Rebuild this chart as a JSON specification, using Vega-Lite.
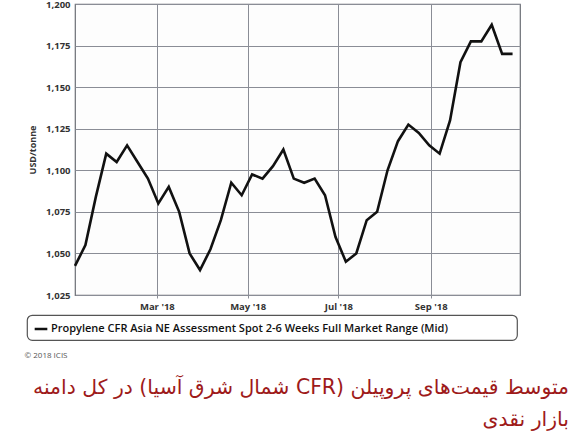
{
  "$schema": "https://vega.github.io/schema/vega-lite/v6.json",
  "width": 445,
  "height": 291,
  "autosize": {"type": "none"},
  "padding": {"left": 75, "top": 4, "right": 56, "bottom": 138},
  "background": "#ffffff",
  "config": {
    "view": {"stroke": "#6b6e75", "strokeWidth": 1.2, "fill": "#fdfdfd"},
    "font": "Open Sans",
    "legend": {"strokeWidth": 1.2}
  },
  "title": {
    "text": ["\u202bمتوسط قیمت‌های پروپیلن (CFR شمال شرق آسیا) در کل دامنه\u202c", "\u202bبازار نقدی\u202c"],
    "orient": "bottom",
    "anchor": "end",
    "align": "right",
    "frame": "group",
    "dx": 49,
    "offset": 19,
    "font": "DejaVu Sans",
    "fontSize": 20.4,
    "fontWeight": "normal",
    "color": "#9e1a1a",
    "lineHeight": 32
  },
  "data": {
    "values": [
      {"date": "2018-01-05", "price": 1042.5, "series": "Propylene CFR Asia NE Assessment Spot 2-6 Weeks Full Market Range (Mid)"},
      {"date": "2018-01-12", "price": 1055, "series": "Propylene CFR Asia NE Assessment Spot 2-6 Weeks Full Market Range (Mid)"},
      {"date": "2018-01-19", "price": 1084, "series": "Propylene CFR Asia NE Assessment Spot 2-6 Weeks Full Market Range (Mid)"},
      {"date": "2018-01-26", "price": 1110, "series": "Propylene CFR Asia NE Assessment Spot 2-6 Weeks Full Market Range (Mid)"},
      {"date": "2018-02-02", "price": 1105, "series": "Propylene CFR Asia NE Assessment Spot 2-6 Weeks Full Market Range (Mid)"},
      {"date": "2018-02-09", "price": 1115, "series": "Propylene CFR Asia NE Assessment Spot 2-6 Weeks Full Market Range (Mid)"},
      {"date": "2018-02-16", "price": 1105, "series": "Propylene CFR Asia NE Assessment Spot 2-6 Weeks Full Market Range (Mid)"},
      {"date": "2018-02-23", "price": 1095, "series": "Propylene CFR Asia NE Assessment Spot 2-6 Weeks Full Market Range (Mid)"},
      {"date": "2018-03-02", "price": 1080, "series": "Propylene CFR Asia NE Assessment Spot 2-6 Weeks Full Market Range (Mid)"},
      {"date": "2018-03-09", "price": 1090, "series": "Propylene CFR Asia NE Assessment Spot 2-6 Weeks Full Market Range (Mid)"},
      {"date": "2018-03-16", "price": 1075, "series": "Propylene CFR Asia NE Assessment Spot 2-6 Weeks Full Market Range (Mid)"},
      {"date": "2018-03-23", "price": 1050, "series": "Propylene CFR Asia NE Assessment Spot 2-6 Weeks Full Market Range (Mid)"},
      {"date": "2018-03-30", "price": 1040, "series": "Propylene CFR Asia NE Assessment Spot 2-6 Weeks Full Market Range (Mid)"},
      {"date": "2018-04-06", "price": 1052.5, "series": "Propylene CFR Asia NE Assessment Spot 2-6 Weeks Full Market Range (Mid)"},
      {"date": "2018-04-13", "price": 1070, "series": "Propylene CFR Asia NE Assessment Spot 2-6 Weeks Full Market Range (Mid)"},
      {"date": "2018-04-20", "price": 1092.5, "series": "Propylene CFR Asia NE Assessment Spot 2-6 Weeks Full Market Range (Mid)"},
      {"date": "2018-04-27", "price": 1085, "series": "Propylene CFR Asia NE Assessment Spot 2-6 Weeks Full Market Range (Mid)"},
      {"date": "2018-05-04", "price": 1097.5, "series": "Propylene CFR Asia NE Assessment Spot 2-6 Weeks Full Market Range (Mid)"},
      {"date": "2018-05-11", "price": 1095, "series": "Propylene CFR Asia NE Assessment Spot 2-6 Weeks Full Market Range (Mid)"},
      {"date": "2018-05-18", "price": 1102.5, "series": "Propylene CFR Asia NE Assessment Spot 2-6 Weeks Full Market Range (Mid)"},
      {"date": "2018-05-25", "price": 1112.5, "series": "Propylene CFR Asia NE Assessment Spot 2-6 Weeks Full Market Range (Mid)"},
      {"date": "2018-06-01", "price": 1095, "series": "Propylene CFR Asia NE Assessment Spot 2-6 Weeks Full Market Range (Mid)"},
      {"date": "2018-06-08", "price": 1092.5, "series": "Propylene CFR Asia NE Assessment Spot 2-6 Weeks Full Market Range (Mid)"},
      {"date": "2018-06-15", "price": 1095, "series": "Propylene CFR Asia NE Assessment Spot 2-6 Weeks Full Market Range (Mid)"},
      {"date": "2018-06-22", "price": 1085, "series": "Propylene CFR Asia NE Assessment Spot 2-6 Weeks Full Market Range (Mid)"},
      {"date": "2018-06-29", "price": 1060, "series": "Propylene CFR Asia NE Assessment Spot 2-6 Weeks Full Market Range (Mid)"},
      {"date": "2018-07-06", "price": 1045, "series": "Propylene CFR Asia NE Assessment Spot 2-6 Weeks Full Market Range (Mid)"},
      {"date": "2018-07-13", "price": 1050, "series": "Propylene CFR Asia NE Assessment Spot 2-6 Weeks Full Market Range (Mid)"},
      {"date": "2018-07-20", "price": 1070, "series": "Propylene CFR Asia NE Assessment Spot 2-6 Weeks Full Market Range (Mid)"},
      {"date": "2018-07-27", "price": 1075, "series": "Propylene CFR Asia NE Assessment Spot 2-6 Weeks Full Market Range (Mid)"},
      {"date": "2018-08-03", "price": 1100, "series": "Propylene CFR Asia NE Assessment Spot 2-6 Weeks Full Market Range (Mid)"},
      {"date": "2018-08-10", "price": 1117.5, "series": "Propylene CFR Asia NE Assessment Spot 2-6 Weeks Full Market Range (Mid)"},
      {"date": "2018-08-17", "price": 1127.5, "series": "Propylene CFR Asia NE Assessment Spot 2-6 Weeks Full Market Range (Mid)"},
      {"date": "2018-08-24", "price": 1122.5, "series": "Propylene CFR Asia NE Assessment Spot 2-6 Weeks Full Market Range (Mid)"},
      {"date": "2018-08-31", "price": 1115, "series": "Propylene CFR Asia NE Assessment Spot 2-6 Weeks Full Market Range (Mid)"},
      {"date": "2018-09-07", "price": 1110, "series": "Propylene CFR Asia NE Assessment Spot 2-6 Weeks Full Market Range (Mid)"},
      {"date": "2018-09-14", "price": 1130, "series": "Propylene CFR Asia NE Assessment Spot 2-6 Weeks Full Market Range (Mid)"},
      {"date": "2018-09-21", "price": 1165, "series": "Propylene CFR Asia NE Assessment Spot 2-6 Weeks Full Market Range (Mid)"},
      {"date": "2018-09-28", "price": 1177.5, "series": "Propylene CFR Asia NE Assessment Spot 2-6 Weeks Full Market Range (Mid)"},
      {"date": "2018-10-05", "price": 1177.5, "series": "Propylene CFR Asia NE Assessment Spot 2-6 Weeks Full Market Range (Mid)"},
      {"date": "2018-10-12", "price": 1187.5, "series": "Propylene CFR Asia NE Assessment Spot 2-6 Weeks Full Market Range (Mid)"},
      {"date": "2018-10-19", "price": 1170, "series": "Propylene CFR Asia NE Assessment Spot 2-6 Weeks Full Market Range (Mid)"},
      {"date": "2018-10-26", "price": 1170, "series": "Propylene CFR Asia NE Assessment Spot 2-6 Weeks Full Market Range (Mid)"}
    ]
  },
  "mark": {"type": "line", "strokeWidth": 2.6, "strokeJoin": "miter", "strokeCap": "butt"},
  "encoding": {
    "x": {
      "field": "date",
      "type": "temporal",
      "scale": {"type": "utc", "domain": [{"year": 2018, "month": 1, "date": 5, "utc": true}, {"year": 2018, "month": 10, "date": 31, "utc": true}], "nice": false},
      "axis": {
        "values": [
          {"year": 2018, "month": 3, "date": 1, "utc": true},
          {"year": 2018, "month": 5, "date": 1, "utc": true},
          {"year": 2018, "month": 7, "date": 1, "utc": true},
          {"year": 2018, "month": 9, "date": 1, "utc": true}
        ],
        "labelExpr": "utcFormat(datum.value, \"%b '%y\")",
        "domain": false,
        "grid": true,
        "gridColor": "#8a8d96",
        "gridWidth": 1,
        "gridOpacity": 1,
        "ticks": true,
        "tickSize": 3,
        "tickColor": "#8a8d96",
        "labelFont": "Open Sans",
        "labelFontSize": 9.5,
        "labelFontWeight": "bold",
        "labelColor": "#333333",
        "labelPadding": 3,
        "title": "© 2018 ICIS",
        "titleAnchor": "start",
        "titleAlign": "left",
        "titleBaseline": "middle",
        "titleX": -51,
        "titleY": 60,
        "titleFont": "Open Sans",
        "titleFontSize": 8,
        "titleFontWeight": "normal",
        "titleColor": "#555555"
      }
    },
    "y": {
      "field": "price",
      "type": "quantitative",
      "scale": {"domain": [1025, 1200], "nice": false, "zero": false},
      "axis": {
        "values": [1025, 1050, 1075, 1100, 1125, 1150, 1175, 1200],
        "format": ",.0f",
        "domain": false,
        "ticks": false,
        "grid": true,
        "gridColor": "#8a8d96",
        "gridWidth": 1,
        "gridOpacity": 1,
        "labelFont": "Open Sans",
        "labelFontSize": 9.5,
        "labelFontWeight": "bold",
        "labelColor": "#333333",
        "labelPadding": 5,
        "title": "USD/tonne",
        "titleFont": "Open Sans",
        "titleFontSize": 9,
        "titleFontWeight": "bold",
        "titleColor": "#333333",
        "titlePadding": 8
      }
    },
    "color": {
      "field": "series",
      "type": "nominal",
      "scale": {"range": ["#111111"]},
      "legend": {
        "orient": "none",
        "legendX": -48,
        "legendY": 311,
        "title": null,
        "symbolType": "stroke",
        "symbolSize": 160,
        "symbolStrokeWidth": 2.5,
        "labelFont": "Open Sans",
        "labelFontSize": 11,
        "labelFontWeight": 600,
        "labelColor": "#111111",
        "labelLimit": 0,
        "labelOffset": 2,
        "labelExpr": "datum.label + '\u2007\u2007\u2007\u2007\u2007\u2007\u2007\u2007\u2007\u2007\u200b'",
        "strokeColor": "#555555",
        "cornerRadius": 5,
        "padding": 6,
        "fillColor": "#ffffff"
      }
    }
  }
}
